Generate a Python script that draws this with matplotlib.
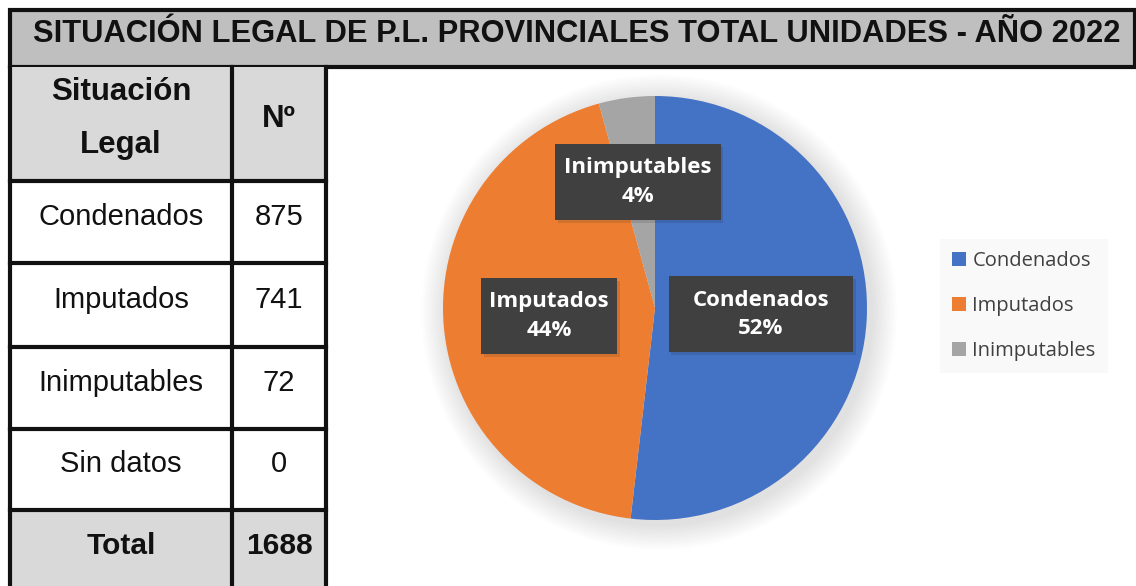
import numpy as np
import matplotlib.pyplot as plt
import matplotlib.patheffects as pe
from matplotlib.patches import Rectangle, Circle
from matplotlib.path import Path

title = "SITUACIÓN LEGAL DE P.L. PROVINCIALES TOTAL UNIDADES - AÑO 2022"
header = ["Situación\nLegal", "Nº"]
row_names = ["Condenados", "Imputados", "Inimputables", "Sin datos"]
row_counts = [875, 741, 72, 0]
total = 1688

pie_labels = ["Condenados", "Imputados", "Inimputables"]
pie_values = [875, 741, 72]
pie_colors = ['#4472C4', '#ED7D31', '#A5A5A5']
# label placement / box padding (fraction of radius, fraction of font size)
label_dist = [0.5, 0.5, 0.6]
label_padx = [1.08, 0.36, 0.4]

W, H = 1136, 586
fig = plt.figure(figsize=(W / 100, H / 100), dpi=100)

# table + title drawn in pixel coordinates
tab = fig.add_axes([0, 0, 1, 1])
tab.set_xlim(0, W)
tab.set_ylim(H, 0)
tab.axis('off')

edge = '#111111'
lw = 3
x0, x1, x2 = 10, 232, 326
row_edges = [67, 181, 263, 347, 429, 510, 590]

tab.add_patch(Rectangle((x0, 10), W - 1 - x0, 57, facecolor='#BFBFBF', edgecolor=edge, lw=lw))
tab.text(577, 42, title, ha='center', va='baseline', fontsize=22.2,
         fontweight='bold', family='Liberation Sans', color='#111111')

# header and total backgrounds
for top, bot in [(row_edges[0], row_edges[1]), (row_edges[-2], row_edges[-1])]:
    tab.add_patch(Rectangle((x0, top), x2 - x0, bot - top, facecolor='#D9D9D9', edgecolor='none'))

cells = [header] + [[n, str(c)] for n, c in zip(row_names, row_counts)] + [["Total", str(total)]]
for i, (a, b) in enumerate(cells):
    top, bot = row_edges[i], row_edges[i + 1]
    last = i == len(cells) - 1
    yc = (top + min(bot, H)) / 2 - (2 if last else 5)
    bold = i == 0 or last
    size = 22.5 if i == 0 else (21.5 if last else 21)
    kw = dict(ha='center', va='center', fontsize=size, family='Liberation Sans',
              fontweight='bold' if bold else 'normal', color='#111111')
    tab.text((x0 + x1) / 2, yc, a, linespacing=2.0, **kw)
    tab.text((x1 + x2) / 2, yc, b, **kw)

for y in row_edges[1:-1]:
    tab.plot([x0, x2], [y, y], color=edge, lw=lw, solid_capstyle='projecting')
for x in (x0, x1, x2):
    tab.plot([x, x], [row_edges[0], H], color=edge, lw=lw)

# pie
cx, cy, r = 655, 308, 212
ax = fig.add_axes([(cx - r) / W, (H - cy - r) / H, 2 * r / W, 2 * r / H])
for k in range(10):
    ax.add_patch(Circle((0.02, -0.02), 1 + 0.012 * (k + 1), color='black', alpha=0.01,
                        lw=0, clip_on=False))
wedges, _ = ax.pie(pie_values, colors=pie_colors, startangle=90, counterclock=False,
                   radius=1, wedgeprops=dict(linewidth=0))
ax.set_xlim(-1, 1)
ax.set_ylim(-1, 1)
ax.set_aspect('auto')


def make_box(padx, pady=0.6):
    def box(x0, y0, width, height, mutation_size):
        px, py = padx * mutation_size, pady * mutation_size
        return Path([(x0 - px, y0 - py), (x0 + width + px, y0 - py),
                     (x0 + width + px, y0 + height + py), (x0 - px, y0 + height + py),
                     (x0 - px, y0 - py)], closed=True)
    return box


tot = sum(pie_values)
for w, lab, v, d, padx in zip(wedges, pie_labels, pie_values, label_dist, label_padx):
    ang = np.deg2rad((w.theta1 + w.theta2) / 2)
    t = ax.text(d * np.cos(ang), d * np.sin(ang), f"{lab}\n{v / tot * 100:.0f}%",
                ha='center', va='center', color='white', fontsize=16, fontweight='bold',
                family='Open Sans', linespacing=1.45,
                bbox=dict(boxstyle=make_box(padx), facecolor='#404040', edgecolor='none'))
    t.get_bbox_patch().set_path_effects([pe.SimplePatchShadow(offset=(2, -2), alpha=0.12),
                                         pe.Normal()])

leg = fig.legend(wedges, pie_labels, loc='center left', bbox_to_anchor=(930 / W, 1 - 306 / H),
                 frameon=True, fancybox=False, handlelength=0.7, handleheight=0.7,
                 handletextpad=0.3, labelspacing=1.25, borderpad=0.6,
                 prop=dict(family='Open Sans', size=14.5))
leg.get_frame().set_facecolor('#F8F8F8')
leg.get_frame().set_edgecolor('none')
for t in leg.get_texts():
    t.set_color('#404040')

fig.savefig('out.png', dpi=100)
